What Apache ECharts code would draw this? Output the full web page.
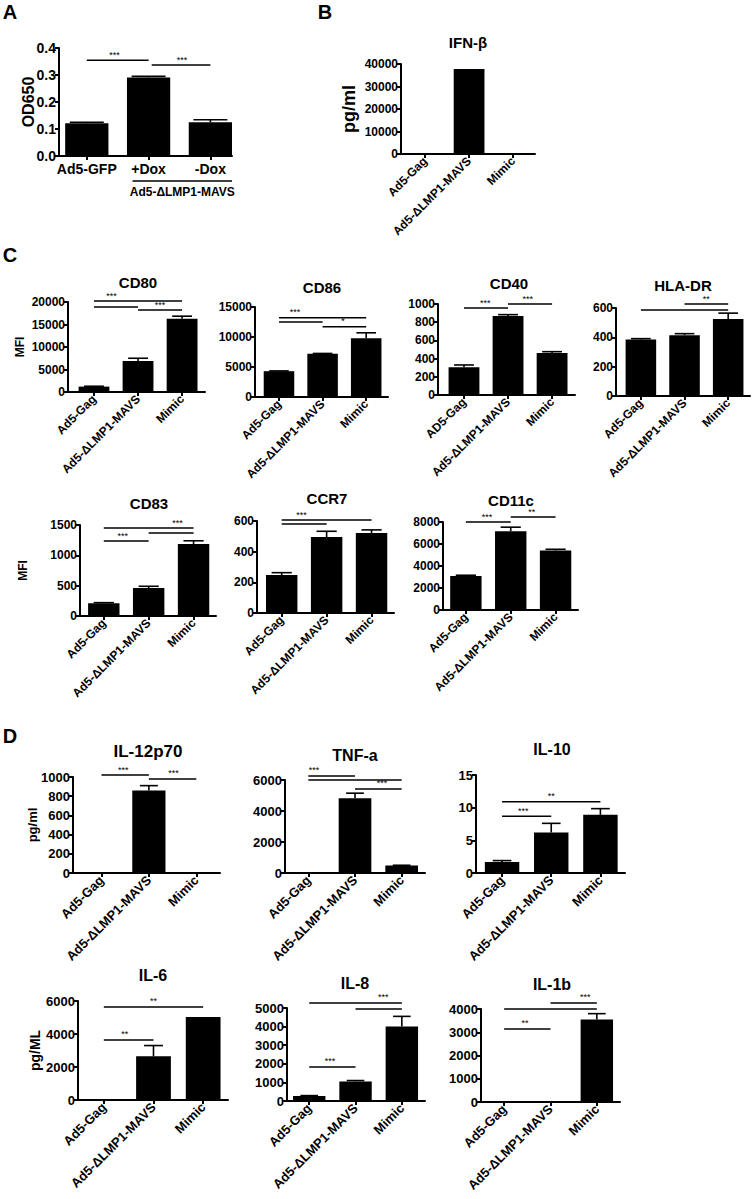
<!DOCTYPE html>
<html>
<head>
<meta charset="utf-8">
<script src="https://cdn.jsdelivr.net/npm/echarts@6/dist/echarts.min.js"></script>
<style>
  html, body { margin: 0; padding: 0; background: #fff; }
  #chart { width: 753px; height: 1199px; }
</style>
</head>
<body>
<div id="chart"></div>
<script>
// ── data ──
const groups = ['Ad5-Gag', 'Ad5-ΔLMP1-MAVS', 'Mimic']
const groupsCD40 = ['AD5-Gag', 'Ad5-ΔLMP1-MAVS', 'Mimic']
const doxGroups = ['Ad5-GFP', '+Dox', '-Dox']
const doxBracketLabel = 'Ad5-ΔLMP1-MAVS'

// mean / SEM per group; sig rows: [from, to, y, label, labelX]
const od650 = [0.121, 0.291, 0.125]
const od650Sem = [0.004, 0.004, 0.009]
const od650Sig = [[0, 1, 0.355, '***', 0.45], [1.05, 2, 0.337, '***', 1.54]]

const ifnb = [0, 37800, 0]
const ifnbSem = [0, 0, 0]

const cd80 = [1200, 6900, 16300]
const cd80Sem = [80, 600, 550]
const cd80Sig = [[0, 2, 20200, '***', 0.4], [0, 1, 18900, '', 0], [1, 2, 18200, '***', 1.5]]

const cd86 = [4300, 7200, 9800]
const cd86Sem = [50, 60, 900]
const cd86Sig = [[0, 2, 13200, '***', 0.37], [0, 1, 12500, '', 0], [1, 2, 11700, '*', 1.47]]

const cd40 = [305, 868, 461]
const cd40Sem = [25, 15, 15]
const cd40Sig = [[0, 1, 955, '***', 0.48], [1, 2, 1000, '***', 1.45]]

const hladr = [385, 415, 525]
const hladrSem = [6, 10, 40]
const hladrSig = [[0, 2, 586, '', 0], [1, 2, 627, '**', 1.5]]

const cd83 = [210, 460, 1185]
const cd83Sem = [10, 30, 55]
const cd83Sig = [[0, 2, 1450, '***', 1.64], [1, 2, 1370, '', 0], [0, 1, 1236, '***', 0.42]]

const ccr7 = [248, 495, 522]
const ccr7Sem = [15, 38, 20]
const ccr7Sig = [[0, 2, 606, '***', 0.44], [0, 1, 580, '', 0]]

const cd11c = [3100, 7150, 5420]
const cd11cSem = [60, 380, 100]
const cd11cSig = [[0, 1, 8000, '***', 0.47], [1, 2, 8450, '**', 1.47]]

const il12 = [0, 860, 0]
const il12Sem = [0, 50, 0]
const il12Sig = [[0, 1, 1020, '***', 0.46], [1, 2, 980, '***', 1.52]]

const tnfa = [0, 4820, 480]
const tnfaSem = [0, 330, 20]
const tnfaSig = [[0, 1, 6260, '***', 0.12], [0, 2, 6000, '', 0], [1, 2, 5420, '***', 1.58]]

const il10 = [1.7, 6.2, 8.9]
const il10Sem = [0.2, 1.4, 0.95]
const il10Sig = [[0, 2, 10.9, '**', 1.0], [0, 1, 8.7, '***', 0.43]]

const il6 = [0, 2650, 5030]
const il6Sem = [0, 650, 0]
const il6Sig = [[0, 2, 5640, '**', 1.0], [0, 1, 3640, '**', 0.42]]

const il8 = [270, 1050, 4000]
const il8Sem = [20, 50, 550]
const il8Sig = [[0, 2, 5270, '***', 1.6], [1, 2, 4950, '', 0], [0, 1, 1830, '***', 0.45]]

const il1b = [0, 0, 3550]
const il1bSem = [0, 0, 250]
const il1bSig = [[0, 2, 4000, '', 0], [1, 2, 4260, '***', 1.75], [0, 1, 3140, '**', 0.45]]

const FONT = '"Liberation Sans", Arial, sans-serif'

// ── panels: data refs + layout ──
// box = [left, top, width, height] of the plot area
const panels = [
	{ cats: doxGroups, mean: od650, sem: od650Sem, sig: od650Sig, max: 0.4, step: 0.1, dec: 1,
		box: [59, 48, 173, 108], xr: [-0.45, 2.35], tickFont: 14, xFont: 14, rotate: 0, cap: 0.55,
		yName: 'OD650', nameFont: 16, nameGap: 23 },
	{ title: 'IFN-β', titlePos: [468, 42], titleFont: 15, cats: groups, mean: ifnb, sem: ifnbSem, sig: [], max: 40000, step: 10000,
		box: [401, 64, 134, 90], xr: [-0.55, 2.5], tickFont: 12, xFont: 12, rotate: 45, cap: 0.4,
		yName: 'pg/ml', nameFont: 18, nameGap: 43 },
	{ title: 'CD80', titlePos: [138, 282], titleFont: 15, cats: groups, mean: cd80, sem: cd80Sem, sig: cd80Sig, max: 20000, step: 5000,
		box: [68, 302, 137, 90], xr: [-0.59, 2.52], tickFont: 12, xFont: 12, rotate: 45, cap: 0.45,
		yName: 'MFI', nameFont: 12, nameGap: 42 },
	{ title: 'CD86', titlePos: [322, 287], titleFont: 15, cats: groups, mean: cd86, sem: cd86Sem, sig: cd86Sig, max: 15000, step: 5000,
		box: [255, 307, 133, 90], xr: [-0.55, 2.5], tickFont: 12, xFont: 12, rotate: 45, cap: 0.45 },
	{ title: 'CD40', titlePos: [509, 283], titleFont: 15, cats: groupsCD40, mean: cd40, sem: cd40Sem, sig: cd40Sig, max: 1000, step: 200,
		box: [438, 304, 137, 91], xr: [-0.59, 2.52], tickFont: 12, xFont: 12, rotate: 45, cap: 0.45 },
	{ title: 'HLA-DR', titlePos: [683, 285], titleFont: 15, cats: groups, mean: hladr, sem: hladrSem, sig: hladrSig, max: 600, step: 200,
		box: [616, 308, 134, 88], xr: [-0.57, 2.5], tickFont: 12, xFont: 12, rotate: 45, cap: 0.45 },
	{ title: 'CD83', titlePos: [149, 503], titleFont: 15, cats: groups, mean: cd83, sem: cd83Sem, sig: cd83Sig, max: 1500, step: 500,
		box: [80, 525, 136, 91], xr: [-0.53, 2.5], tickFont: 12, xFont: 12, rotate: 45, cap: 0.45,
		yName: 'MFI', nameFont: 12, nameGap: 51 },
	{ title: 'CCR7', titlePos: [327, 498], titleFont: 15, cats: groups, mean: ccr7, sem: ccr7Sem, sig: ccr7Sig, max: 600, step: 200,
		box: [257, 521, 137, 92], xr: [-0.55, 2.5], tickFont: 12, xFont: 12, rotate: 45, cap: 0.45 },
	{ title: 'CD11c', titlePos: [511, 500], titleFont: 15, cats: groups, mean: cd11c, sem: cd11cSem, sig: cd11cSig, max: 8000, step: 2000,
		box: [443, 522, 135, 88], xr: [-0.51, 2.5], tickFont: 12, xFont: 12, rotate: 45, cap: 0.45 },
	{ title: 'IL-12p70', titlePos: [148, 751], titleFont: 17, cats: groups, mean: il12, sem: il12Sem, sig: il12Sig, max: 1000, step: 200,
		box: [73, 777, 147, 96], xr: [-0.6, 2.5], tickFont: 13, xFont: 13, rotate: 45, cap: 0.38,
		yName: 'pg/ml', nameFont: 13, nameGap: 34 },
	{ title: 'TNF-a', titlePos: [355, 755], titleFont: 16, cats: groups, mean: tnfa, sem: tnfaSem, sig: tnfaSig, max: 6000, step: 2000,
		box: [285, 780, 140, 93], xr: [-0.5, 2.5], tickFont: 13, xFont: 13, rotate: 45, cap: 0.38 },
	{ title: 'IL-10', titlePos: [552, 749], titleFont: 16, cats: groups, mean: il10, sem: il10Sem, sig: il10Sig, max: 15, step: 5,
		box: [476, 775, 149, 98], xr: [-0.53, 2.5], tickFont: 13, xFont: 13, rotate: 45, cap: 0.38 },
	{ title: 'IL-6', titlePos: [153, 975], titleFont: 16, cats: groups, mean: il6, sem: il6Sem, sig: il6Sig, max: 6000, step: 2000,
		box: [78, 1001, 150, 99], xr: [-0.52, 2.5], tickFont: 13, xFont: 13, rotate: 45, cap: 0.38,
		yName: 'pg/ML', nameFont: 14, nameGap: 36 },
	{ title: 'IL-8', titlePos: [355, 983], titleFont: 16, cats: groups, mean: il8, sem: il8Sem, sig: il8Sig, max: 5000, step: 1000,
		box: [287, 1008, 138, 93], xr: [-0.48, 2.5], tickFont: 13, xFont: 13, rotate: 45, cap: 0.38 },
	{ title: 'IL-1b', titlePos: [552, 984], titleFont: 16, cats: groups, mean: il1b, sem: il1bSem, sig: il1bSig, max: 4000, step: 1000,
		box: [481, 1009, 139, 93], xr: [-0.5, 2.5], tickFont: 13, xFont: 13, rotate: 45, cap: 0.38 },
]

// panel letters
const letters = [['A', 10, 12], ['B', 325, 12], ['C', 10, 255], ['D', 10, 736]]

const black = '#000'
const axisLineStyle = { color: black, width: 2 }

function textStyleOf(text, font, h, v) {
	return { text, font, fill: black, textAlign: h, textVerticalAlign: v, align: h, verticalAlign: v }
}

// 柱 + 上误差线
function barSeries(p, i) {
	return {
		type: 'custom', xAxisIndex: i, yAxisIndex: i, clip: false, silent: true, z: 3,
		data: p.mean.map((m, k) => [k, m, p.sem[k]]),
		renderItem: (params, api) => {
			const x = api.value(0), m = api.value(1), s = api.value(2)
			const unit = api.size([1, 0])[0]
			const bw = unit * 0.7, cw = unit * p.cap
			const base = api.coord([x, 0]), top = api.coord([x, m]), err = api.coord([x, m + s])
			const children = []
			if (m > 0) {
				children.push({ type: 'rect', shape: { x: base[0] - bw / 2, y: top[1], width: bw, height: base[1] - top[1] }, style: { fill: black } })
			}
			if (s > 0) {
				children.push({ type: 'line', shape: { x1: top[0], y1: top[1], x2: err[0], y2: err[1] }, style: { stroke: black, lineWidth: 1.6 } })
				children.push({ type: 'line', shape: { x1: err[0] - cw / 2, y1: err[1], x2: err[0] + cw / 2, y2: err[1] }, style: { stroke: black, lineWidth: 1.6 } })
			}
			return { type: 'group', children }
		},
	}
}

// 显著性横线 + 星号
function sigSeries(p, i) {
	return {
		type: 'custom', xAxisIndex: i, yAxisIndex: i, clip: false, silent: true, z: 4,
		data: p.sig.map(s => [s[0], s[1], s[2], s[4]]),
		renderItem: (params, api) => {
			const s = p.sig[params.dataIndex]
			const a = api.coord([s[0], s[2]]), b = api.coord([s[1], s[2]]), c = api.coord([s[4], s[2]])
			const children = [{ type: 'line', shape: { x1: a[0], y1: a[1], x2: b[0], y2: b[1] }, style: { stroke: black, lineWidth: 1.5 } }]
			if (s[3]) {
				children.push({ type: 'text', x: c[0], y: c[1] - 1, style: textStyleOf(s[3], '9px ' + FONT, 'center', 'bottom') })
			}
			return { type: 'group', children }
		},
	}
}

// A 面板：+Dox/-Dox 下方分组横线与标签
function bracketSeries(i) {
	return {
		type: 'custom', xAxisIndex: i, yAxisIndex: i, clip: false, silent: true,
		data: [[0.74, 2.35]],
		renderItem: (params, api) => {
			const a = api.coord([api.value(0), 0]), b = api.coord([api.value(1), 0])
			const mid = (a[0] + b[0]) / 2
			return {
				type: 'group',
				children: [
					{ type: 'line', shape: { x1: a[0], y1: a[1] + 25, x2: b[0], y2: b[1] + 25 }, style: { stroke: black, lineWidth: 1.5 } },
					{ type: 'text', x: mid, y: a[1] + 36, style: textStyleOf(doxBracketLabel, 'bold 12px ' + FONT, 'center', 'middle') },
				],
			}
		},
	}
}

const grid = [], xAxis = [], yAxis = [], series = [], graphic = []

panels.forEach((p, i) => {
	grid.push({ left: p.box[0], top: p.box[1], width: p.box[2], height: p.box[3], containLabel: false, outerBoundsMode: 'none' })
	xAxis.push({
		gridIndex: i, type: 'value', min: p.xr[0], max: p.xr[1],
		axisLine: { show: true, onZero: false, lineStyle: axisLineStyle },
		axisTick: { show: true, customValues: [0, 1, 2], length: 4, lineStyle: axisLineStyle },
		axisLabel: {
			customValues: [0, 1, 2], rotate: p.rotate, margin: p.rotate ? 5 : 6,
			fontSize: p.xFont, fontWeight: 'bold', fontFamily: FONT, color: black,
			formatter: v => p.cats[Math.round(v)] || '',
		},
		splitLine: { show: false },
	})
	yAxis.push({
		gridIndex: i, type: 'value', min: 0, max: p.max, interval: p.step,
		axisLine: { show: true, onZero: false, lineStyle: axisLineStyle },
		axisTick: { show: true, length: 4, lineStyle: axisLineStyle },
		axisLabel: {
			margin: 3, fontSize: p.tickFont, fontWeight: 'bold', fontFamily: FONT, color: black,
			formatter: v => p.dec ? v.toFixed(p.dec) : String(v),
		},
		splitLine: { show: false },
		name: p.yName || '', nameLocation: 'middle', nameGap: p.nameGap || 0, nameRotate: 90,
		nameMoveOverlap: false,
		nameTextStyle: { fontSize: p.nameFont || 12, fontWeight: 'bold', fontFamily: FONT, color: black },
	})
	series.push(barSeries(p, i))
	if (p.sig.length) series.push(sigSeries(p, i))
	if (p.title) {
		graphic.push({ type: 'text', x: p.titlePos[0], y: p.titlePos[1], style: textStyleOf(p.title, 'bold ' + p.titleFont + 'px ' + FONT, 'center', 'middle') })
	}
})
series.push(bracketSeries(0))

letters.forEach(([t, x, y]) => {
	graphic.push({ type: 'text', x, y, style: textStyleOf(t, 'bold 20px ' + FONT, 'center', 'middle') })
})

const chart = echarts.init(document.getElementById('chart'), null, { renderer: 'svg' })
chart.setOption({
	animation: false,
	backgroundColor: '#fff',
	textStyle: { fontFamily: FONT },
	grid, xAxis, yAxis, series, graphic,
})
</script>
</body>
</html>
